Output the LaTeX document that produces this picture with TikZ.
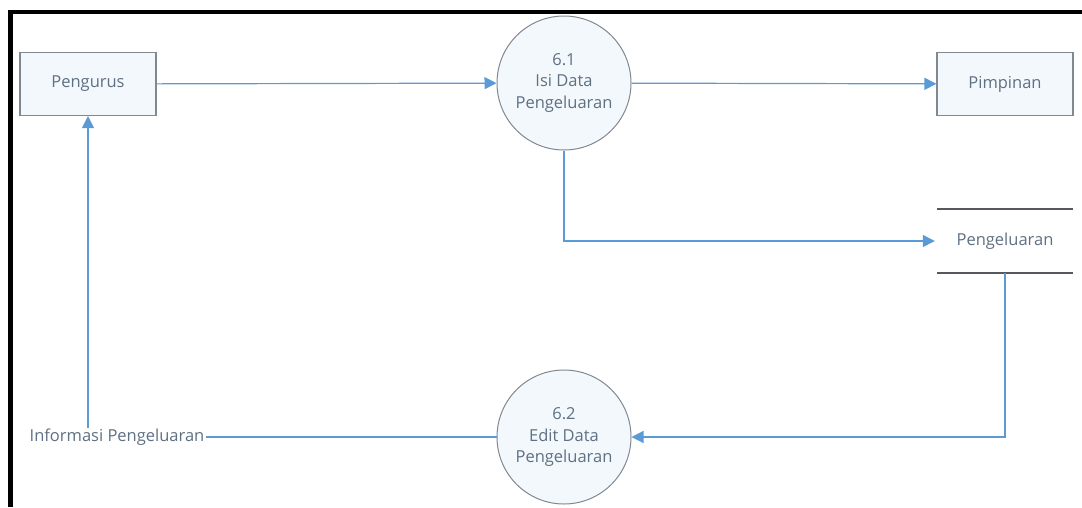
\documentclass[tikz,border=0pt]{standalone}
\usepackage{fontspec}
\setmainfont{Open Sans}
\usetikzlibrary{arrows.meta,positioning}
\definecolor{flowblue}{RGB}{91,155,213}
\definecolor{edgegrey}{RGB}{128,136,145}
\definecolor{txtgrey}{RGB}{95,112,130}
\definecolor{paleblue}{RGB}{243,248,253}
\definecolor{storeline}{RGB}{85,88,92}

\begin{document}
\begin{tikzpicture}[x=1pt,y=-1pt, every node/.style={font=\fontsize{16.5}{21.5}\selectfont,text=txtgrey},
  entity/.style={draw=edgegrey,fill=paleblue,line width=1.1pt,minimum width=136pt,minimum height=63pt},
  process/.style={circle,draw=edgegrey,fill=paleblue,line width=1pt,minimum size=134pt,inner sep=0pt,align=center},
  store/.style={minimum width=136pt,minimum height=63pt,inner sep=0pt},
  flow/.style={-{Triangle[length=12pt,width=12pt]},flowblue,line width=1.2pt},
  wire/.style={flowblue,line width=1.2pt}]

\useasboundingbox (0,0) rectangle (1082,507);
% frame, only top and left are visible
\draw[line width=4pt] (8,12) -- (1082,12);
\draw[line width=5pt] (10.5,10) -- (10.5,507);

\node[entity] (pengurus) at (88,84) {Pengurus};
\node[process] (p61) at (564,83) {6.1\\Isi Data\\Pengeluaran};
\node[entity] (pimpinan) at (1005,84) {Pimpinan};
\node[store] (store) at (1005,241) {Pengeluaran};
\draw[storeline,line width=2pt] (store.north west) -- (store.north east);
\draw[storeline,line width=2pt] (store.south west) -- (store.south east);
\node[process] (p62) at (564,437) {6.2\\Edit Data\\Pengeluaran};
\node[inner sep=1pt] (info) at (117,437) {Informasi Pengeluaran};

\draw[flow] (pengurus) -- (p61);
\draw[flow] (p61) -- (pimpinan);
\draw[flow] (p61.south) |- ([xshift=-2pt]store.west);
\draw[flow] (store.south) |- (p62.east);
\draw[wire] (p62.west) -- (info.east);
\draw[flow] (pengurus.south |- info.north) -- (pengurus.south);
\end{tikzpicture}
\end{document}
